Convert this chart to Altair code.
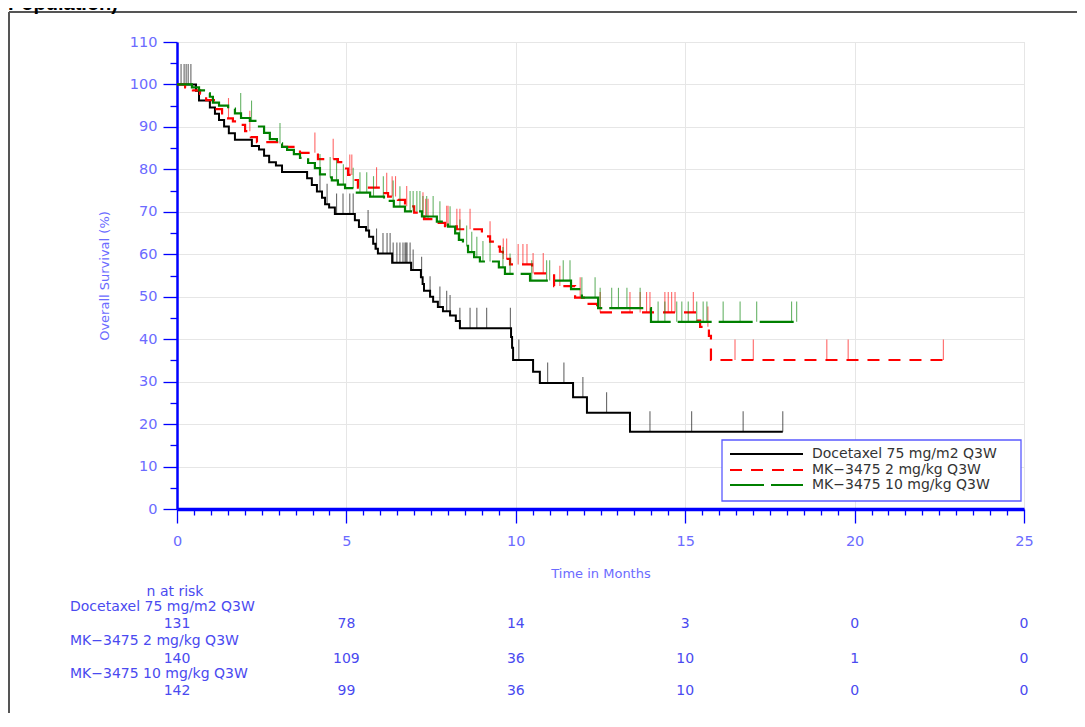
import bisect
import altair as alt
import pandas as pd

# ---------------- data ----------------
ARM_DOC = "Docetaxel 75 mg/m2 Q3W"
ARM_R2 = "MK−3475 2 mg/kg Q3W"
ARM_R10 = "MK−3475 10 mg/kg Q3W"

# Kaplan-Meier step points: time (months) and overall survival (%)
doc_t = [0, 0.56, 0.65, 0.97, 1.12, 1.24, 1.39, 1.53, 1.71, 2.21, 2.42, 2.57, 2.72, 2.92, 3.10,
         3.84, 3.98, 4.13, 4.28, 4.37, 4.49, 4.66, 5.25, 5.37, 5.58, 5.67, 5.79, 5.86, 5.93, 6.35,
         6.91, 7.20, 7.25, 7.29, 7.47, 7.56, 7.70, 7.85, 8.06, 8.23, 8.35, 9.86, 9.89, 9.92, 10.51,
         10.71, 11.69, 12.10, 13.37, 17.88]
doc_s = [100, 98.5, 96.2, 94.6, 93.1, 91.6, 90.1, 88.5, 87.0, 85.5, 84.7, 83.2, 81.7, 80.9, 79.4,
         77.9, 76.3, 74.8, 73.3, 71.8, 71.0, 69.5, 68.0, 66.4, 65.6, 64.1, 62.5, 61.3, 60.2, 58.0,
         56.3, 54.6, 53.0, 51.4, 50.0, 48.8, 47.6, 46.6, 45.6, 44.3, 42.6, 40.5, 38.0, 35.1, 32.3,
         29.7, 26.3, 22.7, 18.2, 18.2]
doc_cens = [0.12, 0.21, 0.27, 0.33, 0.41, 4.22, 4.43, 4.71, 4.90, 5.10, 5.20, 5.64, 5.89, 6.08,
            6.20, 6.29, 6.38, 6.49, 6.58, 6.67, 6.73, 6.76, 6.79, 6.88, 6.97, 7.22, 7.47, 7.76,
            7.96, 8.06, 8.35, 8.65, 8.85, 9.14, 9.84, 10.09, 10.94, 11.42, 11.98, 12.68, 13.96,
            15.19, 16.71, 17.88]

r2_t = [0, 0.24, 0.47, 0.68, 0.86, 1.09, 1.33, 1.45, 1.65, 1.77, 2.01, 2.18, 2.36, 3.04, 3.48,
        3.63, 4.16, 4.75, 4.93, 5.05, 5.19, 5.34, 5.99, 6.23, 6.52, 6.73, 7.00, 7.29, 7.64, 7.91,
        8.26, 9.00, 9.24, 9.36, 9.53, 9.62, 9.83, 10.48, 11.13, 11.75, 12.04, 12.40, 15.35, 15.44,
        15.70, 15.76, 22.70]
r2_s = [100, 99.3, 98.6, 97.8, 96.3, 94.2, 92.8, 92.0, 91.3, 90.5, 89.0, 87.6, 86.4, 85.3, 84.6,
        83.9, 82.4, 81.7, 80.2, 78.7, 77.5, 75.7, 74.4, 73.6, 72.8, 71.3, 69.8, 68.3, 67.4, 66.6,
        65.9, 64.2, 63.0, 61.8, 60.6, 58.9, 57.6, 55.5, 52.5, 49.8, 48.3, 46.3, 44.4, 42.9,
        40.8, 35.1, 35.1]
r2_cens = [1.52, 2.15, 4.07, 4.61, 5.10, 5.16, 5.89, 6.19, 6.35, 6.45, 6.78, 7.26, 7.34, 7.41,
           7.96, 8.00, 8.26, 8.35, 8.65, 9.24, 9.63, 9.73, 10.07, 10.21, 10.33, 10.51, 10.81,
           11.30, 11.90, 12.49, 13.37, 13.67, 13.86, 13.96, 14.40, 14.50, 14.60, 14.70, 15.24,
           15.67, 16.47, 17.01, 19.18, 19.81, 22.62]

r10_t = [0, 0.44, 0.65, 0.86, 0.97, 1.06, 1.24, 1.51, 1.71, 1.89, 2.15, 2.42, 2.57, 2.74, 2.95,
         3.10, 3.25, 3.45, 3.63, 3.87, 4.07, 4.22, 4.40, 4.57, 4.75, 4.96, 5.25, 5.70, 6.11, 6.40,
         6.73, 7.23, 7.67, 8.00, 8.21, 8.32, 8.44, 8.59, 8.77, 8.94, 9.50, 9.68, 10.42, 11.63,
         11.95, 12.43, 13.99, 18.33]
r10_s = [100, 99.3, 98.6, 97.9, 97.1, 95.7, 95.0, 94.3, 93.2, 92.1, 91.4, 90.1, 88.6, 87.1, 86.1,
         85.3, 84.6, 83.6, 82.7, 81.5, 80.3, 78.8, 78.1, 77.4, 76.4, 75.6, 74.5, 73.6, 72.6, 71.2,
         70.1, 68.9, 67.7, 66.5, 64.9, 63.4, 62.0, 60.5, 59.3, 58.3, 56.9, 55.4, 53.8, 51.8,
         49.8, 47.3, 44.1, 44.1]
r10_cens = [1.88, 2.20, 3.04, 4.22, 4.52, 4.71, 4.91, 5.20, 5.40, 5.60, 5.80, 6.09, 6.38, 6.58,
            6.88, 6.97, 7.08, 7.17, 7.26, 7.37, 7.56, 7.76, 8.06, 8.35, 8.55, 8.70, 8.85, 9.03,
            9.24, 9.62, 9.83, 10.47, 10.91, 11.00, 11.40, 11.60, 11.95, 12.34, 12.49, 12.83,
            13.03, 13.28, 13.67, 14.20, 14.40, 14.75, 14.90, 15.09, 15.34, 15.53, 15.64, 16.12,
            16.62, 17.11, 18.14, 18.29]

# number at risk table
risk_times = [0, 5, 10, 15, 20, 25]
doc_risk = [131, 78, 14, 3, 0, 0]
r2_risk = [140, 109, 36, 10, 1, 0]
r10_risk = [142, 99, 36, 10, 0, 0]

x_ticks = [i * 0.5 for i in range(51)]
y_ticks = list(range(0, 111, 5))

# ---------------- styling ----------------
W, H = 847, 467
AX_BLUE = "#0000ff"
LBL_BLUE = "#6b6bff"
RISK_BLUE = "#4a4af0"
FONT = "DejaVu Sans"
TICK_LEN = 4.8
RISK_FS = 14

xscale = alt.Scale(domain=[0, 25], nice=False, zero=False)
yscale = alt.Scale(domain=[0, 110], nice=False, zero=True)

xaxis = alt.Axis(
    values=x_ticks, format="~g", labelExpr="datum.value % 5 === 0 ? datum.label : ''",
    tickSize={"condition": {"test": "datum.value % 5 === 0", "value": 14}, "value": 6},
    grid=True, gridColor="#e6e6e6", gridWidth=1,
    gridOpacity={"condition": {"test": "datum.value % 5 === 0", "value": 1}, "value": 0},
    domainColor=AX_BLUE, domainWidth=3.5, tickColor=AX_BLUE, tickWidth=1.3,
    labelColor=LBL_BLUE, labelFont=FONT, labelFontSize=14.5, labelPadding=11,
    labelOverlap=False, labelFlush=False,
    title="Time in Months", titleColor=LBL_BLUE, titleFont=FONT, titleFontSize=13,
    titleFontWeight="normal", titlePadding=20,
)
yaxis = alt.Axis(
    values=y_ticks, format="~g", labelExpr="datum.value % 10 === 0 ? datum.label : ''",
    tickSize={"condition": {"test": "datum.value % 10 === 0", "value": 14}, "value": 7},
    grid=True, gridColor="#e6e6e6", gridWidth=1,
    gridOpacity={"condition": {"test": "datum.value % 10 === 0", "value": 1}, "value": 0},
    domainColor=AX_BLUE, domainWidth=2.5, tickColor=AX_BLUE, tickWidth=1.3,
    labelColor=LBL_BLUE, labelFont=FONT, labelFontSize=14.5, labelPadding=6,
    labelOverlap=False, labelFlush=False,
    title="Overall Survival (%)", titleColor=LBL_BLUE, titleFont=FONT, titleFontSize=13,
    titleFontWeight="normal", titlePadding=18,
)

X = alt.X("t:Q", scale=xscale, axis=xaxis)
Y = alt.Y("s:Q", scale=yscale, axis=yaxis)


def arm_layers(times, surv, cens, color, dash, width, legend_py, label):
    curve = pd.DataFrame({"t": times, "s": surv})
    rows = []
    for c in cens:
        i = bisect.bisect_right(times, c) - 1
        rows.append({"t": c, "s": surv[i]})
    cdf = pd.DataFrame(rows)
    line_kw = dict(interpolate="step-after", color=color, strokeWidth=width, strokeCap="butt")
    if dash:
        line_kw["strokeDash"] = dash
    line = alt.Chart(curve).mark_line(**line_kw).encode(x=X, y=Y)
    ticks = alt.Chart(cdf).transform_calculate(s2=f"datum.s + {TICK_LEN}").mark_rule(
        color=color, strokeWidth=1.1, opacity=0.6
    ).encode(x=X, y=Y, y2=alt.Y2("s2:Q"))
    leg = pd.DataFrame({"py": [legend_py], "label": [label]})
    rule_kw = dict(color=color, strokeWidth=width, strokeCap="butt")
    if dash:
        rule_kw["strokeDash"] = dash
    leg_rule = alt.Chart(leg).mark_rule(**rule_kw).encode(
        x=alt.value(553), x2=alt.value(626), y=alt.Y("py:Q", scale=None)
    )
    leg_text = alt.Chart(leg).mark_text(
        align="left", baseline="middle", font=FONT, fontSize=14, color="#333333"
    ).encode(x=alt.value(635), y=alt.Y("py:Q", scale=None), text="label:N")
    return ticks, line, leg_rule, leg_text


doc_layers = arm_layers(doc_t, doc_s, doc_cens, "#000000", None, 2.0, 412, ARM_DOC)
r2_layers = arm_layers(r2_t, r2_s, r2_cens, "#ff0000", [12, 9], 2.2, 428, ARM_R2)
r10_layers = arm_layers(r10_t, r10_s, r10_cens, "#008000", [34, 7], 2.2, 443, ARM_R10)

one = pd.DataFrame({"k": [0]})

legend_box = alt.Chart(one).mark_rect(fill="white", stroke="#5a5aff", strokeWidth=1.3).encode(
    x=alt.value(545), x2=alt.value(844), y=alt.value(398), y2=alt.value(459)
)

frame_top = alt.Chart(one).mark_rule(color="#555555", strokeWidth=2).encode(
    x=alt.value(-168), x2=alt.value(1000), y=alt.value(-30)
)
frame_left = alt.Chart(one).mark_rule(color="#555555", strokeWidth=2).encode(
    x=alt.value(-168), y=alt.value(-30), y2=alt.value(720)
)
heading = alt.Chart(pd.DataFrame({"txt": ["Population)"]})).mark_text(
    align="left", baseline="alphabetic", font="Liberation Sans", fontSize=20,
    fontWeight="bold", color="#000000"
).encode(x=alt.value(-169), y=alt.value(-32), text="txt:N")

# number-at-risk table
label_df = pd.DataFrame({
    "txt": ["n at risk", ARM_DOC, ARM_R2, ARM_R10],
    "px": [-2, -107, -107, -107],
    "py": [550, 565, 599, 632],
    "al": ["c", "l", "l", "l"],
})
risk_head = alt.Chart(label_df[label_df.al == "c"]).mark_text(
    align="center", baseline="middle", font=FONT, fontSize=RISK_FS, color=RISK_BLUE
).encode(x=alt.X("px:Q", scale=None), y=alt.Y("py:Q", scale=None), text="txt:N")
risk_labels = alt.Chart(label_df[label_df.al == "l"]).mark_text(
    align="left", baseline="middle", font=FONT, fontSize=RISK_FS, color=RISK_BLUE
).encode(x=alt.X("px:Q", scale=None), y=alt.Y("py:Q", scale=None), text="txt:N")

risk_rows = []
for vals, py in [(doc_risk, 582), (r2_risk, 617), (r10_risk, 649)]:
    for t, n in zip(risk_times, vals):
        risk_rows.append({"t": t, "n": str(n), "py": py})
risk_df = pd.DataFrame(risk_rows)
risk_nums = alt.Chart(risk_df).mark_text(
    align="center", baseline="middle", font=FONT, fontSize=RISK_FS, color=RISK_BLUE
).encode(x=X, y=alt.Y("py:Q", scale=None), text="n:N")

chart = alt.layer(
    frame_top, frame_left, heading,
    doc_layers[0], doc_layers[1],
    r2_layers[0], r2_layers[1],
    r10_layers[0], r10_layers[1],
    legend_box,
    doc_layers[2], doc_layers[3], r2_layers[2], r2_layers[3], r10_layers[2], r10_layers[3],
    risk_head, risk_labels, risk_nums,
).properties(
    width=W, height=H,
    autosize=alt.AutoSizeParams(type="none"),
    padding={"left": 169, "top": 34, "right": 53, "bottom": 204},
).configure_view(strokeWidth=0).configure(background="white")

chart.save("out.html", embed_options={"renderer": "svg", "actions": False})
